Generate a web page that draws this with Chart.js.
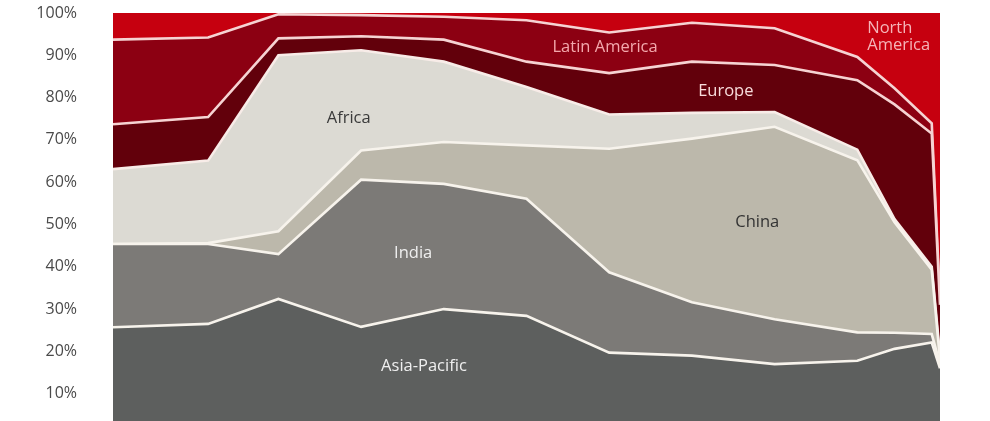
<!DOCTYPE html>
<html>
<head>
<meta charset="utf-8">
<script src="https://cdn.jsdelivr.net/npm/chart.js@4.4.1/dist/chart.umd.min.js"></script>
<style>
  html, body { margin: 0; padding: 0; background: #ffffff; overflow: hidden; }
  .chart-wrap { width: 990px; height: 446px; }
</style>
</head>
<body>
<div class="chart-wrap">
  <canvas id="share-chart" width="990" height="446"></canvas>
</div>
<script>
// x positions of the periods (uneven steps)
const periods = [0, 1.15, 2, 3, 4, 5, 6, 7, 8, 9, 9.45, 9.9, 10];

// shares in % per region, bottom to top of the stack
const asiaPacific  = [25.7, 26.5, 32.4, 25.8, 30.0, 28.4, 19.7, 19.0, 17.0, 17.8, 20.6, 22.1, 16.0];
const india        = [19.7, 18.9, 10.6, 34.8, 29.6, 27.7, 19.0, 12.6, 10.6, 6.7, 3.8, 2.0, 1.0];
const china        = [0.0, 0.2, 5.4, 6.9, 9.9, 12.6, 29.2, 38.7, 45.5, 40.7, 26.1, 15.2, 1.0];
const africa       = [17.7, 19.5, 41.6, 23.7, 19.0, 13.8, 8.1, 6.1, 3.5, 2.5, 0.8, 0.7, 1.0];
const europe       = [10.6, 10.3, 4.0, 3.3, 5.2, 6.0, 9.8, 12.1, 11.1, 16.4, 27.1, 31.5, 12.0];
const latinAmerica = [20.0, 18.8, 5.7, 5.0, 5.4, 9.8, 9.6, 9.2, 8.7, 5.5, 3.8, 2.4, 1.0];
const northAmerica = [6.3, 5.8, 0.3, 0.5, 0.9, 1.7, 4.6, 2.3, 3.6, 10.4, 17.8, 26.1, 68.0];

const regionNames = ['Asia-Pacific', 'India', 'China', 'Africa', 'Europe', 'Latin America', 'North America'];
const regionValues = [asiaPacific, india, china, africa, europe, latinAmerica, northAmerica];
const regionColors = ['#5d5f5e', '#7c7a77', '#bcb8ab', '#dcdad3', '#62000b', '#8c0012', '#c6000f'];
const lineColors   = ['#f7f3ec', '#f7f3ec', '#f7f3ec', '#f8ece8', '#f6d3d3', '#f6d3d3', '#f6d3d3'];

const yTicks = [0, 10, 20, 30, 40, 50, 60, 70, 80, 90, 100];

// area labels: [text, period, share %, colour, align]
const areaLabels = [
  ['Africa', 2.85, 75.0, '#3a3a3a', 'center'],
  ['India', 3.63, 43.2, '#efefef', 'center'],
  ['China', 7.79, 50.5, '#333333', 'center'],
  ['Asia-Pacific', 3.76, 16.5, '#efefef', 'center'],
  ['Latin America', 5.95, 91.8, '#f3a8ad', 'center'],
  ['Europe', 7.41, 81.4, '#f8dcdc', 'center'],
  ['North', 9.12, 96.3, '#f5b4b8', 'left'],
  ['America', 9.12, 92.3, '#f5b4b8', 'left']
];

/*Drawing the region names on top of the areas*/
const areaLabelPlugin = {
  id: 'areaLabels',
  afterDatasetsDraw(chart) {
    const { ctx, scales } = chart;
    ctx.save();
    ctx.font = '16.5px "Open Sans", "Noto Sans", sans-serif';
    ctx.textBaseline = 'middle';
    areaLabels.forEach(([text, px, val, color, align]) => {
      ctx.fillStyle = color;
      ctx.textAlign = align;
      ctx.fillText(text, scales.x.getPixelForValue(px), scales.y.getPixelForValue(val));
    });
    ctx.restore();
  }
};

const datasets = regionNames.map((name, i) => ({
  label: name,
  data: periods.map((p, j) => ({ x: p, y: regionValues[i][j] })),
  backgroundColor: regionColors[i],
  borderColor: lineColors[i],
  borderWidth: i === regionNames.length - 1 ? 0 : 2.6,
  pointRadius: 0,
  tension: 0,
  fill: i === 0 ? 'origin' : '-1'
}));

new Chart(document.getElementById('share-chart'), {
  type: 'line',
  data: { datasets: datasets },
  options: {
    responsive: false,
    animation: false,
    devicePixelRatio: 1,
    layout: { padding: { top: 13, right: 50, bottom: 10, left: 0 } },
    plugins: {
      legend: { display: false },
      tooltip: { enabled: false }
    },
    scales: {
      x: {
        type: 'linear',
        min: periods[0],
        max: periods[periods.length - 1],
        display: false
      },
      y: {
        stacked: true,
        min: 0,
        max: 100,
        afterBuildTicks: (scale) => { scale.ticks = yTicks.map(v => ({ value: v })); },
        afterFit: (scale) => {
          // tick padding also pads top/bottom in Chart.js, undo that
          scale.width = 113;
          scale.paddingTop = 0;
          scale.paddingBottom = 0;
        },
        grid: { display: false, drawTicks: false },
        border: { display: false },
        ticks: {
          padding: 36,
          color: '#4a4a4a',
          font: { family: '"Open Sans", "Noto Sans", sans-serif', size: 16 },
          callback: (value) => value === 0 ? '' : value + '%'
        }
      }
    }
  },
  plugins: [areaLabelPlugin]
});
</script>
</body>
</html>
